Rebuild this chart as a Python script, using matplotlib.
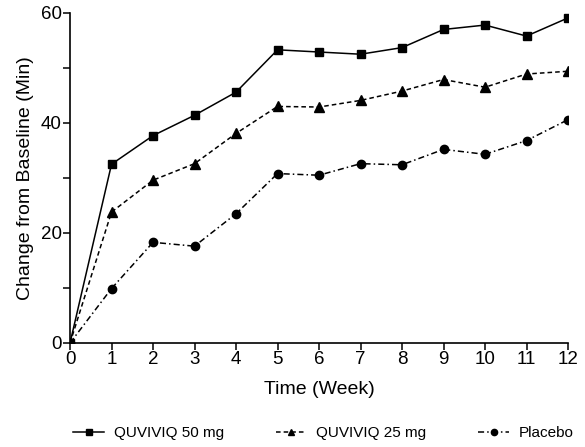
import matplotlib
matplotlib.use("Agg")
import matplotlib.pyplot as plt
from matplotlib.ticker import MultipleLocator

plt.rcParams["font.family"] = ["Liberation Sans", "DejaVu Sans"]

# -----------------------------
# DATA
# -----------------------------
weeks = [0, 1, 2, 3, 4, 5, 6, 7, 8, 9, 10, 11, 12]
dose_50 = [0, 32.5, 37.7, 41.4, 45.6, 53.3, 52.9, 52.5, 53.7, 57.0, 57.8, 55.8, 59.1]
dose_25 = [0, 23.8, 29.6, 32.6, 38.1, 43.0, 42.9, 44.1, 45.8, 47.9, 46.5, 48.9, 49.4]
placebo = [0, 9.9, 18.3, 17.6, 23.5, 30.8, 30.5, 32.6, 32.4, 35.2, 34.3, 36.8, 40.6]
labels = ["QUVIVIQ 50 mg", "QUVIVIQ 25 mg", "Placebo"]

# -----------------------------
# PLOT
# -----------------------------
fig = plt.figure(figsize=(5.85, 4.47), dpi=100)
ax = fig.add_axes([0.1197, 0.2327, 0.8513, 0.7383])

kw = dict(color="black", linewidth=1.1)
ax.plot(weeks, dose_50, linestyle="-", marker="s", markersize=6, label=labels[0], **kw)
ax.plot(weeks, dose_25, linestyle=(0, (3, 2)), marker="^", markersize=6.5, label=labels[1], **kw)
ax.plot(weeks, placebo, linestyle=(0, (4, 2, 1, 2)), marker="o", markersize=6, label=labels[2], **kw)

ax.set_xlim(0, 12)
ax.set_ylim(0, 60)
ax.set_xticks(weeks)
ax.yaxis.set_major_locator(MultipleLocator(20))
ax.yaxis.set_minor_locator(MultipleLocator(10))

for s in ("top", "right"):
    ax.spines[s].set_visible(False)
for s in ("left", "bottom"):
    ax.spines[s].set_linewidth(1.2)

ax.tick_params(which="both", direction="out", width=1.1, labelsize=13.5, pad=1)
ax.tick_params(which="major", length=5)
ax.tick_params(which="minor", length=5)

ax.set_xlabel("Time (Week)", fontsize=14, labelpad=9)
ax.set_ylabel("Change from Baseline (Min)", fontsize=14, labelpad=5)

fig.legend(loc="center", bbox_to_anchor=(0.553, 0.031), ncol=3, frameon=False,
           fontsize=11, handlelength=2.0, columnspacing=3.4, handletextpad=0.65,
           markerscale=0.75)

fig.savefig("out.png", dpi=100)
